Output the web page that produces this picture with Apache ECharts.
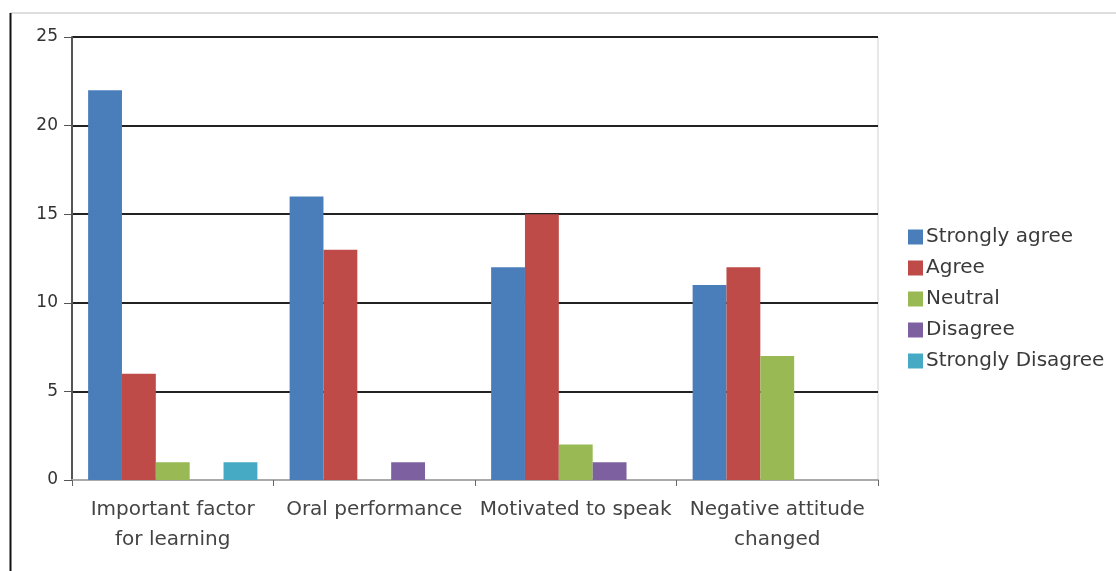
<!DOCTYPE html>
<html>
<head>
<meta charset="utf-8">
<script src="https://cdn.jsdelivr.net/npm/echarts@6/dist/echarts.min.js"></script>
<style>
  html, body { margin: 0; padding: 0; background: #fff; }
  #chart { width: 1116px; height: 571px; }
</style>
</head>
<body>
<div id="chart"></div>
<script>
// Survey responses per statement
const categories = ['Important factor\nfor learning', 'Oral performance', 'Motivated to speak', 'Negative attitude\nchanged'];
const seriesNames = ['Strongly agree', 'Agree', 'Neutral', 'Disagree', 'Strongly Disagree'];
const stronglyAgree = [22, 16, 12, 11];
const agree = [6, 13, 15, 12];
const neutral = [1, 0, 2, 7];
const disagree = [0, 1, 1, 0];
const stronglyDisagree = [1, 0, 0, 0];
const yTicks = [0, 5, 10, 15, 20, 25];

const colors = ['#4a7ebb', '#be4b48', '#98b954', '#7d60a0', '#46aac5'];
const values = [stronglyAgree, agree, neutral, disagree, stronglyDisagree];
const font = '"DejaVu Sans", "Open Sans", sans-serif';

const chart = echarts.init(document.getElementById('chart'), null, { renderer: 'canvas' });

chart.setOption({
  animation: false,
  color: colors,
  textStyle: { fontFamily: font },
  graphic: [
    { type: 'line', shape: { x1: 10, y1: 13, x2: 1116, y2: 13 }, style: { stroke: '#bdbdbd', lineWidth: 1 } },
    { type: 'line', shape: { x1: 10.5, y1: 13, x2: 10.5, y2: 571 }, style: { stroke: '#111', lineWidth: 2 } }
  ],
  grid: {
    left: 72, right: 238, top: 37, bottom: 91,
    show: true, borderColor: '#d0d0d0', borderWidth: 1, backgroundColor: '#fff'
  },
  legend: {
    orient: 'vertical',
    left: 903, top: 222,
    itemWidth: 15, itemHeight: 15, itemGap: 11,
    icon: 'rect',
    textStyle: { fontSize: 20, color: '#3a3a3a', fontFamily: font, padding: [0, 0, 0, -2] },
    data: seriesNames
  },
  xAxis: {
    type: 'category',
    data: categories,
    axisLine: { show: true, lineStyle: { color: '#aaa', width: 2 } },
    axisTick: { show: true, length: 6, lineStyle: { color: '#666' } },
    axisLabel: { fontSize: 20, color: '#444', lineHeight: 30, margin: 15, interval: 0, fontFamily: font },
    splitLine: { show: false }
  },
  yAxis: {
    type: 'value',
    min: yTicks[0], max: yTicks[yTicks.length - 1], interval: 5,
    axisLine: { show: true, lineStyle: { color: '#555', width: 2 } },
    axisTick: { show: true, length: 8, lineStyle: { color: '#555' } },
    axisLabel: { fontSize: 17, color: '#333', margin: 14, fontFamily: font },
    splitLine: { show: true, lineStyle: { color: '#222', width: 2 } }
  },
  series: seriesNames.map((name, i) => ({
    name,
    type: 'bar',
    data: values[i],
    barGap: '0%',
    barCategoryGap: '16%',
    itemStyle: { color: colors[i] }
  }))
});
</script>
</body>
</html>
